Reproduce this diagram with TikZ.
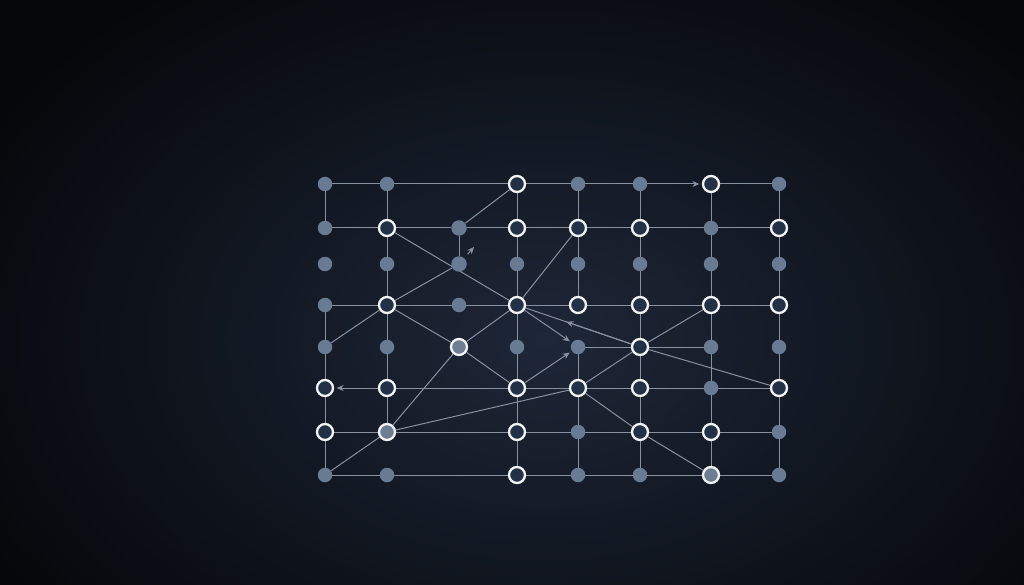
\documentclass[tikz,border=0pt]{standalone}
\usetikzlibrary{arrows.meta,calc}
\definecolor{bgout}{HTML}{05070A}
\definecolor{bgin}{HTML}{1E2738}
\definecolor{dotc}{HTML}{697B92}
\definecolor{ringf}{HTML}{233146}
\definecolor{grayf}{HTML}{6E7D91}
\definecolor{linec}{HTML}{8891A0}
\definecolor{ringl}{HTML}{F2F3F5}
\pgfdeclarelayer{back}\pgfdeclarelayer{edges}\pgfsetlayers{back,edges,main}
\begin{document}
\begin{tikzpicture}[x=1pt,y=-1pt,
 dotn/.style={circle,fill=dotc,minimum size=14.5pt,inner sep=0pt},
 ringn/.style={circle,draw=ringl,line width=2.3pt,fill=ringf,minimum size=16pt,inner sep=0pt},
 grayn/.style={ringn,fill=grayf},
 link/.style={draw=linec,line width=1pt},
 arr/.style={link,-{Stealth[length=7pt,width=6pt]},shorten >=2.5pt}]
\useasboundingbox (0,0) rectangle (1024,585);
\begin{pgfonlayer}{back}
\fill[bgout] (0,0) rectangle (1024,585);
\begin{scope}
\clip (0,0) rectangle (1024,585);
\shade[inner color=bgin, outer color=bgout] (545,340) ellipse [x radius=640, y radius=440];
\end{scope}
\end{pgfonlayer}
% row 0
\node[dotn]  (n00) at (325,184) {};
\node[dotn]  (n10) at (387,184) {};
\node[ringn] (n30) at (517,184) {};
\node[dotn]  (n40) at (578,184) {};
\node[dotn]  (n50) at (640,184) {};
\node[ringn] (n60) at (711,184) {};
\node[dotn]  (n70) at (779,184) {};
% row 1
\node[dotn]  (n01) at (325,228) {};
\node[ringn] (n11) at (387,228) {};
\node[dotn,minimum size=15.5pt] (n21) at (459,228) {};
\node[ringn] (n31) at (517,228) {};
\node[ringn] (n41) at (578,228) {};
\node[ringn] (n51) at (640,228) {};
\node[dotn]  (n61) at (711,228) {};
\node[ringn] (n71) at (779,228) {};
% row 2
\node[dotn] (n02) at (325,264) {};
\node[dotn] (n12) at (387,264) {};
\node[dotn,minimum size=15.5pt] (n22) at (459,264) {};
\node[dotn] (n32) at (517,264) {};
\node[dotn] (n42) at (578,264) {};
\node[dotn] (n52) at (640,264) {};
\node[dotn] (n62) at (711,264) {};
\node[dotn] (n72) at (779,264) {};
% row 3
\node[dotn]  (n03) at (325,305) {};
\node[ringn] (n13) at (387,305) {};
\node[dotn]  (n23) at (459,305) {};
\node[ringn] (n33) at (517,305) {};
\node[ringn] (n43) at (578,305) {};
\node[ringn] (n53) at (640,305) {};
\node[ringn] (n63) at (711,305) {};
\node[ringn] (n73) at (779,305) {};
% row 4
\node[dotn]  (n04) at (325,347) {};
\node[dotn]  (n14) at (387,347) {};
\node[grayn] (n24) at (459,347) {};
\node[dotn]  (n34) at (517,347) {};
\node[dotn]  (n44) at (578,347) {};
\node[ringn] (n54) at (640,347) {};
\node[dotn]  (n64) at (711,347) {};
\node[dotn]  (n74) at (779,347) {};
% row 5
\node[ringn] (n05) at (325,388) {};
\node[ringn] (n15) at (387,388) {};
\node[ringn] (n35) at (517,388) {};
\node[ringn] (n45) at (578,388) {};
\node[ringn] (n55) at (640,388) {};
\node[dotn]  (n65) at (711,388) {};
\node[ringn] (n75) at (779,388) {};
% row 6
\node[ringn] (n06) at (325,432) {};
\node[grayn] (n16) at (387,432) {};
\node[ringn] (n36) at (517,432) {};
\node[dotn]  (n46) at (578,432) {};
\node[ringn] (n56) at (640,432) {};
\node[ringn] (n66) at (711,432) {};
\node[dotn]  (n76) at (779,432) {};
% row 7
\node[dotn]  (n07) at (325,475) {};
\node[dotn]  (n17) at (387,475) {};
\node[ringn] (n37) at (517,475) {};
\node[dotn]  (n47) at (578,475) {};
\node[dotn]  (n57) at (640,475) {};
\node[grayn] (n67) at (711,475) {};
\node[dotn]  (n77) at (779,475) {};
\coordinate (t22) at (474,247);
\begin{pgfonlayer}{edges}
% horizontal
\draw[link] (n00)--(n10)--(n30)--(n40)--(n50);
\draw[arr] (n50)--(n60);
\draw[link] (n60)--(n70);
\draw[link] (n01)--(n11)--(n21)--(n31)--(n41)--(n51)--(n61)--(n71);
\draw[link] (n03)--(n13)--(n23)--(n33)--(n43)--(n53)--(n63)--(n73);
\draw[link] (n44)--(n54)--(n64);
\draw[arr] (n15)--(n05);
\draw[link] (n15)--(n35)--(n45)--(n55)--(n65)--(n75);
\draw[link] (n06)--(n16)--(n36)--(n46)--(n56)--(n66)--(n76);
\draw[link] (n07)--(n17)--(n37)--(n47)--(n57)--(n67)--(n77);
% vertical
\draw[link] (n00)--(n01);
\draw[link] (n03)--(n04)--(n05)--(n06)--(n07);
\draw[link] (n10)--(n11)--(n12)--(n13)--(n14)--(n15)--(n16);
\draw[link] (n21)--(n22);
\draw[link] (n30)--(n31)--(n32)--(n33)--(n34)--(n35)--(n36)--(n37);
\draw[link] (n40)--(n41)--(n42)--(n43);
\draw[link] (n44)--(n45)--(n46)--(n47);
\draw[link] (n50)--(n51)--(n52)--(n53)--(n54)--(n55)--(n56)--(n57);
\draw[link] (n60)--(n61)--(n62)--(n63)--(n64)--(n65)--(n66)--(n67);
\draw[link] (n70)--(n71)--(n72)--(n73)--(n74)--(n75)--(n76)--(n77);
% diagonals
\draw[link] (n21)--(n30);
\draw[link] (n11)--(n33);
\draw[link] (n04)--(n13)--(n22);
\draw[arr,shorten <=5pt,shorten >=0pt] (n22)--(t22);
\draw[link] (n13)--(n24)--(n35);
\draw[link] (n24)--(n33)--(n41);
\draw[link] (n07)--(n16)--(n24);
\draw[link] (n16)--(n45)--(n54)--(n63);
\draw[arr] (n35)--(n44);
\draw[arr] (n33)--(n44);
\draw[link] (n54)--(n33);
\draw[link,-{Stealth[length=7pt,width=6pt]}] (n54)--($(n54)!0.6!(n33)$);
\draw[link] (n54)--(n75);
\draw[link] (n45)--(n56)--(n67);
\end{pgfonlayer}
\end{tikzpicture}
\end{document}
